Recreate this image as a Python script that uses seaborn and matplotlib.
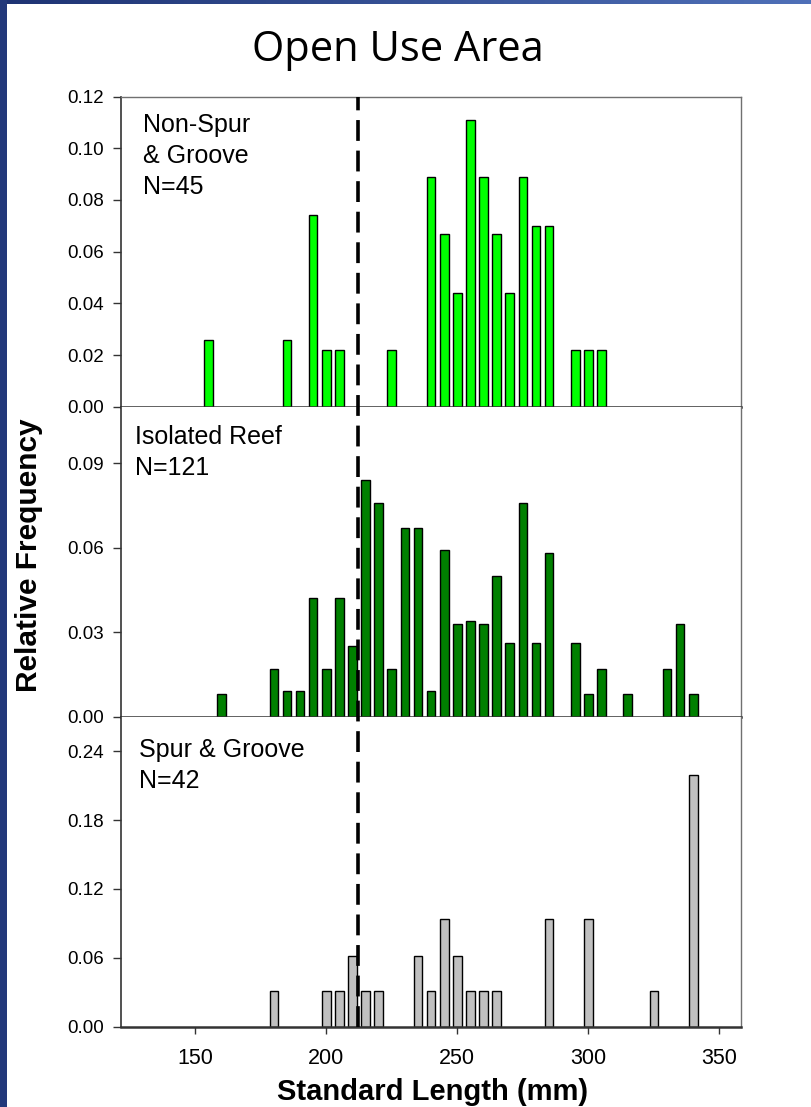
import matplotlib
matplotlib.use("Agg")
import matplotlib.pyplot as plt
from matplotlib.patches import Rectangle
import numpy as np
import pandas as pd
import seaborn as sns

# Length-frequency distributions (bin centres in mm, relative frequency)
nonspur_len = [155, 185, 195, 200, 205, 225, 240, 245, 250, 255, 260, 265, 270,
               275, 280, 285, 295, 300, 305]
nonspur_freq = [0.026, 0.026, 0.074, 0.022, 0.022, 0.022, 0.089, 0.067, 0.044,
                0.111, 0.089, 0.067, 0.044, 0.089, 0.070, 0.070, 0.022, 0.022, 0.022]

isolated_len = [160, 180, 185, 190, 195, 200, 205, 210, 215, 220, 225, 230, 235,
                240, 245, 250, 255, 260, 265, 270, 275, 280, 285, 295, 300, 305,
                315, 330, 335, 340]
isolated_freq = [0.008, 0.017, 0.009, 0.009, 0.042, 0.017, 0.042, 0.025, 0.084,
                 0.076, 0.017, 0.067, 0.067, 0.009, 0.059, 0.033, 0.034, 0.033,
                 0.050, 0.026, 0.076, 0.026, 0.058, 0.026, 0.008, 0.017, 0.008,
                 0.017, 0.033, 0.008]

spur_len = [180, 200, 205, 210, 215, 220, 235, 240, 245, 250, 255, 260, 265,
            285, 300, 325, 340]
spur_freq = [0.031, 0.031, 0.031, 0.062, 0.031, 0.031, 0.062, 0.031, 0.094,
             0.062, 0.031, 0.031, 0.031, 0.094, 0.094, 0.031, 0.219]

panel_labels = ["Non-Spur\n& Groove\nN=45", "Isolated Reef\nN=121", "Spur & Groove\nN=42"]
panel_colors = ["#00FF00", "#008000", "#C0C0C0"]
panel_ylims = [0.12, 0.11, 0.27]
panel_yticks = [np.arange(0, 0.121, 0.02), np.arange(0, 0.091, 0.03), np.arange(0, 0.241, 0.06)]
x_ticks = [150, 200, 250, 300, 350]
threshold = 212

sns.set_theme(style="white")
plt.rcParams["font.family"] = ["Liberation Sans", "DejaVu Sans"]
plt.rcParams["text.color"] = "black"
plt.rcParams["xtick.color"] = "black"
plt.rcParams["ytick.color"] = "black"
plt.rcParams["lines.scale_dashes"] = False

fig, axes = plt.subplots(3, 1, figsize=(8.11, 11.07), dpi=100)
fig.subplots_adjust(left=0.1492, right=0.9133, bottom=0.0725, top=0.9127, hspace=0)

datasets = [(nonspur_len, nonspur_freq), (isolated_len, isolated_freq), (spur_len, spur_freq)]
text_pos = [(0.035, 0.948), (0.023, 0.942), (0.029, 0.932)]

for i, (ax, (xs, ys)) in enumerate(zip(axes, datasets)):
    df = pd.DataFrame({"length": xs, "freq": ys})
    sns.barplot(data=df, x="length", y="freq", native_scale=True, width=0.66,
                color=panel_colors[i], saturation=1, edgecolor="black",
                linewidth=1.0, errorbar=None, ax=ax)
    ax.set_xlim(121.7, 358.1)
    ax.set_ylim(0, panel_ylims[i])
    ax.set_xticks(x_ticks)
    ax.set_yticks(panel_yticks[i])
    ax.set_yticklabels([f"{v:.2f}" for v in panel_yticks[i]])
    ax.set_xlabel("")
    ax.set_ylabel("")
    ax.tick_params(axis="y", direction="out", length=6, width=1, color="#333333",
                   pad=6, labelsize=13.5, labelcolor="black", left=True)
    if i == 2:
        ax.tick_params(axis="x", direction="out", length=5, width=1, color="#333333",
                       pad=10, labelsize=15.5, labelcolor="black", bottom=True)
    elif i == 1:
        ax.tick_params(axis="x", direction="out", length=5, width=1, color="#333333",
                       bottom=True, labelbottom=False)
    else:
        ax.tick_params(axis="x", length=0, labelbottom=False)
    for side in ["top", "right"]:
        ax.spines[side].set_color("#707070")
        ax.spines[side].set_linewidth(1.0)
    ax.spines["left"].set_color("#333333")
    ax.spines["left"].set_linewidth(1.2)
    ax.spines["bottom"].set_color("#333333")
    ax.spines["bottom"].set_linewidth(1.8)
    if i > 0:
        ax.spines["top"].set_visible(False)
    ax.text(text_pos[i][0], text_pos[i][1], panel_labels[i], transform=ax.transAxes,
            ha="left", va="top", fontsize=18, linespacing=1.38, color="black")

# Dashed reference length running through all three panels
axes[2].axvline(threshold, ymin=0, ymax=3.0, clip_on=False, color="black",
                linewidth=2.6, linestyle=(0, (15, 7)), zorder=10)

fig.text(398 / 811, 1 - 61 / 1107, "Open Use Area", ha="center", va="baseline",
         fontsize=30, family=["Open Sans", "DejaVu Sans"], color="black")
fig.text(433 / 811, 1 - 1100 / 1107, "Standard Length (mm)", ha="center",
         va="baseline", fontsize=21, fontweight="bold", color="black")
fig.text(29 / 811, 1 - 555 / 1107, "Relative Frequency", ha="center", va="center",
         rotation=90, fontsize=21.5, fontweight="bold", color="black")

# Slide frame: navy band on the left and a graded band along the top
fig.patches.append(Rectangle((0, 0), 7 / 811, 1, transform=fig.transFigure,
                             facecolor="#22387A", edgecolor="none", zorder=0))
band = fig.add_axes([0, 1 - 4 / 1107, 1, 4 / 1107])
grad = np.linspace(0, 1, 256).reshape(1, -1)
band.imshow(grad, aspect="auto", extent=(0, 1, 0, 1),
            cmap=matplotlib.colors.LinearSegmentedColormap.from_list(
                "band", ["#1E3373", "#4F70B8"]))
band.set_axis_off()

fig.savefig("out.png", dpi=100)
